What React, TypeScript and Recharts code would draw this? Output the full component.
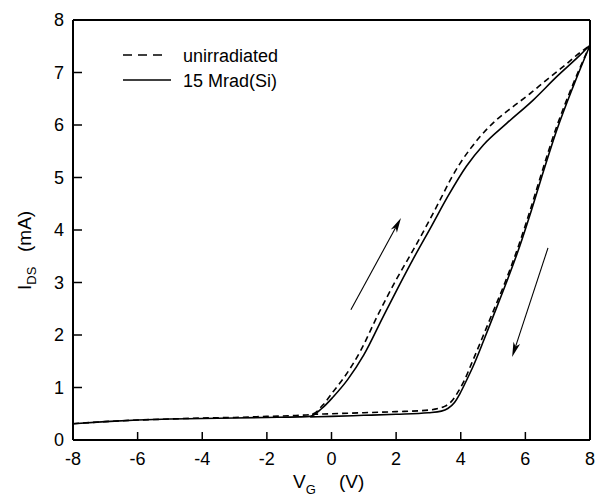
import { LineChart, Line, XAxis, YAxis, ReferenceLine } from 'recharts'

const FONT = '"Liberation Sans", Arial, sans-serif'

const X_TICKS = [-8, -6, -4, -2, 0, 2, 4, 6, 8]
const Y_TICKS = [0, 1, 2, 3, 4, 5, 6, 7, 8]

// 15 Mrad(Si) — forward sweep (baseline + rising branch)
const IRR_UP = [
  [-8, 0.31], [-7, 0.35], [-6, 0.38], [-5, 0.4], [-4, 0.41], [-3, 0.42], [-2, 0.43], [-1, 0.44], [-0.66, 0.45],
  [-0.3, 0.6], [0.05, 0.82], [0.5, 1.15], [1.0, 1.62], [1.6, 2.35], [2.1, 2.95], [2.53, 3.45], [3.1, 4.08],
  [3.6, 4.64], [4.18, 5.22], [4.7, 5.62], [5.42, 6.03], [6.25, 6.48], [6.97, 6.92], [7.69, 7.33], [8, 7.52],
]
// 15 Mrad(Si) — return sweep (right branch + lower baseline)
const IRR_DOWN = [
  [-0.66, 0.44], [0, 0.45], [1.0, 0.47], [2.0, 0.49], [3.0, 0.52], [3.4, 0.55], [3.6, 0.6], [3.8, 0.71],
  [3.98, 0.89], [4.15, 1.1], [4.38, 1.4], [4.7, 1.88], [5.0, 2.35], [5.4, 2.98], [5.83, 3.7], [6.2, 4.4],
  [6.5, 5.0], [6.97, 5.9], [7.49, 6.75], [8, 7.52],
]

// unirradiated — forward sweep
const UNIRR_UP = [
  [-8, 0.31], [-7, 0.35], [-6, 0.38], [-5, 0.4], [-4, 0.42], [-3, 0.43], [-2, 0.45], [-1, 0.47], [-0.6, 0.49],
  [-0.26, 0.67], [0.05, 0.92], [0.4, 1.2], [0.9, 1.7], [1.41, 2.35], [2.0, 3.05], [2.53, 3.62], [3.0, 4.15],
  [3.4, 4.62], [3.7, 4.98], [3.98, 5.27], [4.3, 5.55], [4.6, 5.78], [5.11, 6.1], [5.62, 6.35], [6.15, 6.6],
  [6.66, 6.86], [7.17, 7.11], [7.59, 7.33], [8, 7.52],
]
// unirradiated — return sweep
const UNIRR_DOWN = [
  [-0.6, 0.49], [0, 0.5], [1.0, 0.52], [2.0, 0.54], [3.0, 0.57], [3.3, 0.6], [3.5, 0.64], [3.72, 0.74],
  [3.92, 0.92], [4.1, 1.12], [4.33, 1.45], [4.65, 1.92], [4.97, 2.4], [5.37, 3.0], [5.8, 3.72], [6.17, 4.42],
  [6.47, 5.02], [6.94, 5.92], [7.47, 6.77], [8, 7.52],
]

// sweep direction arrows [from, to]
const ARROWS = [
  [[0.6, 2.48], [2.15, 4.23]],
  [[6.7, 3.66], [5.59, 1.58]],
]

const toPts = (arr: number[][]) => arr.map(([x, y]) => ({ x, y }))

const X_TICK_SIZE = 8
const X_TICK_MARGIN = 4
const Y_TICK_SIZE = 8
const Y_TICK_MARGIN = 1

function XTick({ x, y, payload }: any) {
  const axisY = y - X_TICK_SIZE - X_TICK_MARGIN
  return (
    <g>
      <line x1={x} x2={x} y1={axisY} y2={axisY - 8} stroke="#000" strokeWidth={1.5} />
      <text x={x} y={y} dy="0.71em" textAnchor="middle" fontSize={18} fill="#000">
        {payload.value}
      </text>
    </g>
  )
}

function YTick({ x, y, payload }: any) {
  const axisX = x + Y_TICK_SIZE + Y_TICK_MARGIN
  return (
    <g>
      <line x1={axisX} x2={axisX + 9} y1={y} y2={y} stroke="#000" strokeWidth={1.5} />
      <text x={x} y={y} dy="0.355em" textAnchor="end" fontSize={18} fill="#000">
        {payload.value}
      </text>
    </g>
  )
}

function Arrow(props: any) {
  const { x1, y1, x2, y2 } = props
  const dx = x2 - x1
  const dy = y2 - y1
  const len = Math.hypot(dx, dy)
  const ux = dx / len
  const uy = dy / len
  const hl = 15
  const hw = 3.5
  const bx = x2 - ux * hl
  const by = y2 - uy * hl
  const nx = x2 - ux * (hl - 4)
  const ny = y2 - uy * (hl - 4)
  return (
    <g>
      <line x1={x1} y1={y1} x2={nx} y2={ny} stroke="#000" strokeWidth={1.1} />
      <polygon
        points={`${x2},${y2} ${bx - uy * hw},${by + ux * hw} ${nx},${ny} ${bx + uy * hw},${by - ux * hw}`}
        fill="#000"
      />
    </g>
  )
}

const lineProps = {
  dataKey: 'y',
  type: 'monotone' as const,
  stroke: '#000',
  strokeWidth: 1.6,
  dot: false,
  isAnimationActive: false,
}

export default function App() {
  return (
    <div style={{ position: 'absolute', left: 0, top: 0, width: 598, height: 500, background: '#fff', fontFamily: FONT }}>
      <LineChart
        width={598}
        height={500}
        margin={{ top: 20, right: 8, left: 13, bottom: 30 }}
        style={{ fontFamily: FONT }}
      >
        <XAxis
          dataKey="x"
          type="number"
          domain={[-8, 8]}
          ticks={X_TICKS}
          height={30}
          axisLine={{ stroke: '#000', strokeWidth: 2 }}
          tickLine={false}
          tickSize={X_TICK_SIZE}
          tickMargin={X_TICK_MARGIN}
          tick={<XTick />}
          allowDataOverflow
        />
        <YAxis
          dataKey="y"
          type="number"
          domain={[0, 8]}
          ticks={Y_TICKS}
          width={60}
          axisLine={{ stroke: '#000', strokeWidth: 2 }}
          tickLine={false}
          tickSize={Y_TICK_SIZE}
          tickMargin={Y_TICK_MARGIN}
          tick={<YTick />}
          allowDataOverflow
        />
        <ReferenceLine y={8} stroke="#000" strokeWidth={2} />
        <ReferenceLine x={8} stroke="#000" strokeWidth={2} />
        <Line {...lineProps} data={toPts(UNIRR_UP)} strokeDasharray="6 4" />
        <Line {...lineProps} data={toPts(UNIRR_DOWN)} strokeDasharray="6 4" />
        <Line {...lineProps} data={toPts(IRR_UP)} />
        <Line {...lineProps} data={toPts(IRR_DOWN)} />
        {ARROWS.map(([a, b], i) => (
          <ReferenceLine
            key={i}
            segment={[{ x: a[0], y: a[1] }, { x: b[0], y: b[1] }]}
            shape={(p: any) => <Arrow {...p} />}
          />
        ))}
      </LineChart>
      <svg
        width={598}
        height={500}
        style={{ position: 'absolute', left: 0, top: 0, pointerEvents: 'none', fontFamily: FONT }}
      >
        <line x1={123} y1={55} x2={162} y2={55} stroke="#000" strokeWidth={1.5} strokeDasharray="9 6" />
        <text x={183} y={62} fontSize={18} fill="#000">unirradiated</text>
        <line x1={123} y1={80} x2={171} y2={80} stroke="#000" strokeWidth={1.5} />
        <text x={183} y={87} fontSize={18} fill="#000">15 Mrad(Si)</text>
        <text x={293} y={488} fontSize={19} fill="#000">
          V<tspan fontSize={13} dy={6}>G</tspan>
          <tspan x={339} dy={-6}>(V)</tspan>
        </text>
        <text x={31} y={290} fontSize={19} fill="#000" transform="rotate(-90 31 290)">
          I<tspan fontSize={13} dy={5}>DS</tspan>
          <tspan x={69} dy={-5}>(mA)</tspan>
        </text>
      </svg>
    </div>
  )
}
